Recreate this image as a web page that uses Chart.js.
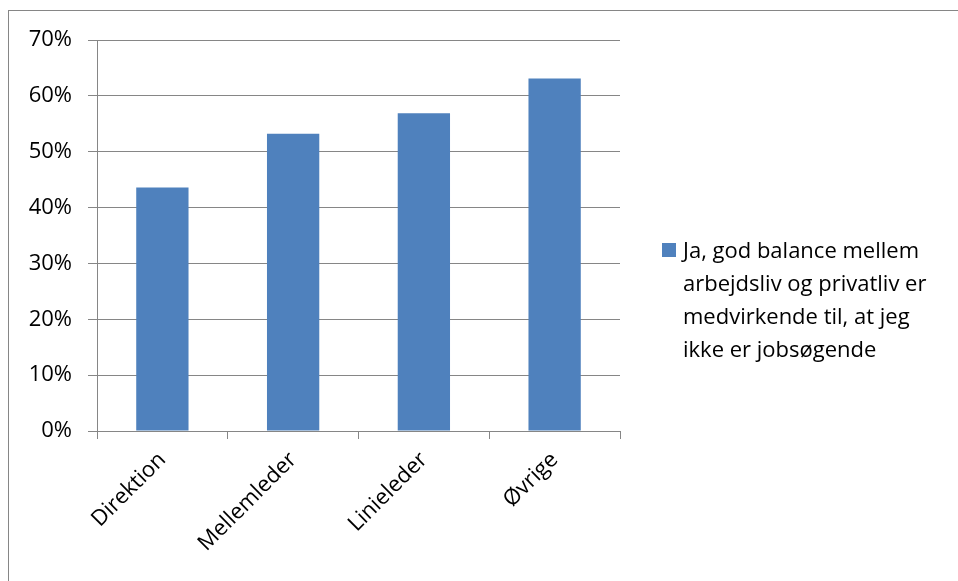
<!DOCTYPE html>
<html>
<head>
<meta charset="utf-8">
<script src="https://cdn.jsdelivr.net/npm/chart.js@4"></script>
<style>
    body { margin: 0; background: #FFFFFF; }
    #wrap { position: relative; width: 958px; height: 581px; overflow: hidden; }
    #legend { position: absolute; left: 662px; top: 233px; width: 290px;
              font-family: "Open Sans", sans-serif; font-size: 22px; line-height: 33px; color: #000; }
    #legend .box { position: absolute; left: 0; top: 10px; width: 14px; height: 14px; }
    #legend .txt { margin-left: 21px; width: 262px; }
</style>
</head>
<body>
<div id="wrap">
    <canvas id="chart" width="958" height="581"></canvas>
    <div id="legend"><span class="box"></span><div class="txt"></div></div>
</div>
<script>
const categories = ["Direktion", "Mellemleder", "Linieleder", "Øvrige"];
const seriesName = "Ja, god balance mellem arbejdsliv og privatliv er medvirkende til, at jeg ikke er jobsøgende";
const seriesValues = [0.436, 0.532, 0.569, 0.631];
const yTicks = [0, 0.1, 0.2, 0.3, 0.4, 0.5, 0.6, 0.7];

const barColor = "#4F81BD";
const lineColor = "#868686";

Chart.defaults.font.family = "'Open Sans', sans-serif";
Chart.defaults.font.size = 22;
Chart.defaults.color = "#000000";

// legend as html text
document.querySelector("#legend .box").style.background = barColor;
document.querySelector("#legend .txt").textContent = seriesName;

// outer frame of the chart (cropped on the right and bottom like the original)
const framePlugin = {
    id: "frame",
    afterDraw(chart) {
        const ctx = chart.ctx;
        ctx.save();
        ctx.strokeStyle = lineColor;
        ctx.lineWidth = 1;
        ctx.strokeRect(8.5, 10.5, 1000, 700);
        ctx.restore();
    }
};

const ctx = document.getElementById("chart").getContext("2d");
new Chart(ctx, {
    type: "bar",
    data: {
        labels: categories,
        datasets: [{
            label: seriesName,
            data: seriesValues,
            backgroundColor: barColor,
            borderWidth: 0,
            barPercentage: 0.4,
            categoryPercentage: 1.0
        }]
    },
    options: {
        responsive: false,
        animation: false,
        layout: { padding: { left: 0, right: 338, top: 40, bottom: 0 } },
        plugins: {
            legend: { display: false },
            tooltip: { enabled: false }
        },
        scales: {
            x: {
                grid: { offset: true, drawOnChartArea: false, color: lineColor, tickLength: 8 },
                border: { color: lineColor },
                ticks: { minRotation: 45, maxRotation: 45, padding: 8 },
                afterFit(scale) { scale.height = 150; }
            },
            y: {
                min: 0,
                max: 0.7,
                afterBuildTicks(scale) { scale.ticks = yTicks.map(v => ({ value: v })); },
                grid: { color: lineColor, tickLength: 9 },
                border: { color: lineColor },
                ticks: {
                    padding: 16,
                    callback: v => Math.round(v * 100) + "%"
                },
                afterFit(scale) { scale.width = 97; }
            }
        }
    },
    plugins: [framePlugin]
});
</script>
</body>
</html>
